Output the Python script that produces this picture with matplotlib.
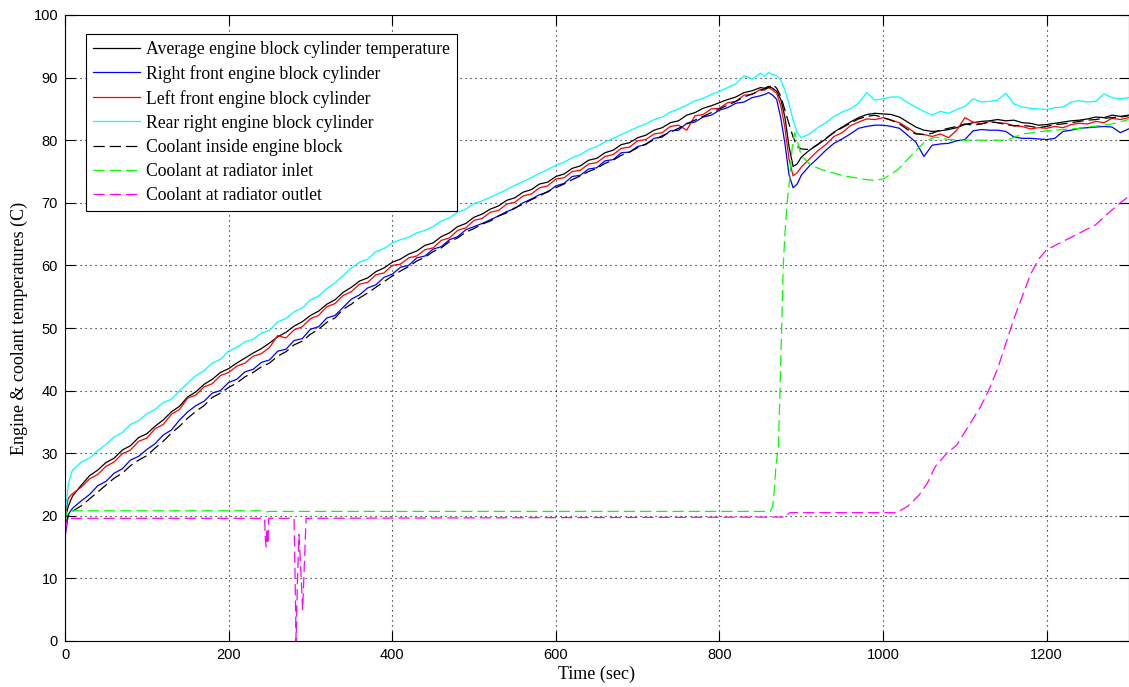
import numpy as np
import matplotlib
matplotlib.use("Agg")
import matplotlib.pyplot as plt

# sample times for the cylinder / block channels (sec)
t_cyl = [0, 4, 8] + list(range(10, 851, 10)) + list(range(855, 901, 5)) + list(range(910, 1301, 10))

avg_block = [19.5, 21.5, 22.8,
    23.3, 24.9, 26.4, 27.3, 28.5, 29.2, 30.5, 31.2, 32.5, 33.1,
    34.3, 35.3, 36.6, 37.5, 39.0, 39.8, 41.0, 41.8, 42.9, 43.5,
    44.4, 45.2, 46.0, 46.7, 47.6, 48.6, 49.3, 50.3, 51.0, 52.0,
    52.7, 53.8, 54.5, 55.7, 56.5, 57.5, 58.0, 59.0, 59.6, 60.5,
    61.0, 61.8, 62.3, 63.2, 63.6, 64.6, 65.2, 66.2, 66.7, 67.7,
    68.2, 69.0, 69.5, 70.4, 70.8, 71.7, 72.1, 73.0, 73.3, 74.2,
    74.6, 75.5, 75.9, 76.8, 77.1, 78.0, 78.4, 79.3, 79.6, 80.4,
    80.8, 81.6, 82.0, 82.8, 83.1, 84.0, 84.4, 85.1, 85.5, 86.0,
    86.5, 86.9, 87.6, 87.9, 88.4,
    88.3, 88.6, 88.3, 87.8, 86.5, 83.7, 79.0, 75.8, 76.2, 77.3,
    78.4, 79.3, 80.2, 81.3, 82.1, 82.9, 83.6, 84.1, 84.3, 84.2,
    84.1, 83.7, 82.9, 82.1, 81.6, 81.4, 81.5, 81.7, 82.0, 82.5,
    82.8, 83.0, 83.1, 83.3, 83.1, 83.2, 82.8, 82.7, 82.4, 82.5,
    82.7, 82.9, 83.1, 83.2, 83.4, 83.7, 83.6, 84.0, 83.8, 84.0]

right_front = [16.5, 20.2, 21.0,
    21.3, 22.4, 23.4, 24.8, 25.5, 26.8, 27.5, 28.9, 29.5, 30.6,
    31.5, 32.9, 33.7, 35.3, 36.6, 37.6, 38.3, 39.6, 40.0, 41.3,
    41.8, 43.0, 43.4, 44.5, 44.9, 46.3, 46.6, 48.0, 48.3, 49.8,
    50.2, 51.6, 52.0, 53.3, 54.6, 55.3, 56.4, 56.9, 58.1, 58.6,
    59.7, 60.0, 61.2, 61.5, 62.6, 63.0, 64.1, 64.6, 65.7, 66.2,
    66.7, 67.3, 67.9, 68.6, 69.1, 70.0, 70.6, 71.3, 71.7, 72.7,
    73.1, 74.2, 74.4, 75.4, 75.6, 76.7, 76.9, 78.0, 78.1, 79.0,
    79.3, 80.3, 80.5, 81.5, 81.6, 82.7, 82.9, 83.7, 84.0, 84.8,
    85.2, 85.9, 86.1, 86.8, 87.1,
    87.3, 87.6, 87.2, 86.5, 83.5, 79.5, 74.5, 72.4, 73.0, 74.4,
    75.9, 77.1, 78.4, 79.5, 80.2, 81.0, 81.9, 82.2, 82.4, 82.4,
    82.2, 81.9, 80.8, 79.7, 77.4, 79.2, 79.4, 79.5, 79.9, 80.1,
    81.5, 81.7, 81.6, 81.6, 81.4, 80.5, 80.3, 80.3, 80.2, 80.1,
    80.3, 81.4, 81.6, 81.9, 82.0, 82.1, 82.2, 82.1, 81.2, 81.8]

left_front = [20.0, 22.8, 23.4,
    23.6, 24.6, 25.9, 26.6, 27.9, 28.6, 29.9, 30.5, 31.9, 32.4,
    33.9, 34.6, 36.2, 37.0, 38.8, 39.3, 40.6, 41.1, 42.4, 42.9,
    43.9, 44.4, 45.5, 45.9, 46.9, 48.8, 48.4, 49.7, 50.2, 51.5,
    52.0, 53.4, 53.9, 55.2, 55.8, 57.0, 57.3, 58.5, 58.8, 60.0,
    60.2, 61.2, 61.5, 62.5, 62.8, 64.0, 64.4, 65.6, 66.0, 67.2,
    67.5, 68.5, 68.8, 69.8, 70.1, 71.1, 71.4, 72.4, 72.7, 73.8,
    74.0, 75.0, 75.2, 76.2, 76.4, 77.4, 77.7, 78.7, 78.9, 79.9,
    80.1, 81.0, 81.2, 82.2, 82.4, 81.6, 83.9, 84.1, 85.0, 85.1,
    86.0, 86.2, 87.2, 87.3, 88.1,
    88.0, 88.4, 88.0, 87.5, 85.5, 82.0, 77.0, 74.3, 74.8, 75.7,
    77.0, 78.3, 79.3, 80.6, 81.2, 82.3, 82.9, 83.4, 83.3, 83.6,
    83.2, 82.8, 82.0, 81.1, 80.9, 80.6, 81.0, 80.4, 81.6, 83.6,
    82.9, 82.6, 83.0, 82.8, 82.7, 82.3, 82.2, 81.8, 82.0, 81.9,
    82.2, 82.0, 82.5, 82.7, 82.6, 83.0, 82.8, 83.5, 83.3, 83.6]

rear_right = [20.0, 25.0, 27.0,
    27.4, 28.6, 29.2, 30.4, 31.4, 32.6, 33.3, 34.6, 35.2, 36.3,
    37.0, 38.1, 38.6, 40.0, 41.2, 42.4, 43.2, 44.4, 45.0, 46.3,
    46.9, 47.8, 48.2, 49.2, 49.6, 51.0, 51.5, 52.6, 53.2, 54.5,
    55.1, 56.3, 57.2, 58.4, 59.6, 60.5, 61.0, 62.2, 62.7, 63.6,
    64.1, 64.5, 65.2, 65.6, 66.2, 67.1, 67.6, 68.5, 69.0, 69.9,
    70.3, 70.9, 71.5, 72.1, 72.8, 73.4, 74.0, 74.7, 75.3, 76.0,
    76.5, 77.2, 77.7, 78.5, 79.0, 79.7, 80.3, 80.9, 81.5, 82.1,
    82.6, 83.3, 83.7, 84.5, 85.0, 85.6, 86.3, 86.7, 87.3, 87.8,
    88.4, 89.0, 90.3, 89.8, 90.7,
    90.2, 90.8, 90.5, 90.3, 89.6, 88.0, 85.8, 83.2, 81.2, 80.4,
    81.0, 82.0, 82.8, 83.8, 84.5, 85.0, 85.9, 87.6, 86.4, 86.6,
    86.9, 86.9, 86.0, 85.3, 84.6, 84.0, 84.6, 84.3, 84.9, 85.4,
    86.6, 86.1, 86.2, 86.4, 87.5, 85.8, 85.3, 85.1, 85.0, 84.9,
    85.2, 85.3, 86.1, 86.3, 86.1, 86.2, 87.4, 86.8, 86.6, 86.8]

coolant_block = [18.5, 20.0, 20.6,
    20.8, 21.6, 22.7, 23.8, 24.9, 26.0, 26.8, 28.0, 28.9, 29.6,
    30.8, 31.9, 33.2, 34.3, 35.6, 36.7, 37.6, 38.9, 39.6, 40.5,
    41.2, 42.2, 42.9, 43.8, 44.4, 45.5, 46.2, 47.3, 47.9, 49.0,
    49.8, 50.9, 51.6, 53.0, 53.8, 54.8, 55.6, 56.5, 57.4, 58.3,
    59.1, 59.8, 60.7, 61.3, 62.2, 62.8, 63.8, 64.4, 65.3, 65.9,
    66.6, 67.1, 67.9, 68.4, 69.2, 69.8, 70.5, 71.1, 71.8, 72.4,
    73.0, 73.7, 74.3, 75.0, 75.5, 76.3, 76.8, 77.6, 78.1, 78.8,
    79.4, 80.1, 80.7, 81.3, 81.9, 82.6, 83.2, 83.8, 84.4, 85.0,
    85.6, 86.2, 86.9, 87.4, 87.9,
    88.2, 88.4, 88.9, 88.3, 87.0, 84.8, 82.6, 80.5, 79.0, 78.6,
    78.5, 79.3, 80.3, 81.2, 82.0, 82.7, 83.4, 83.8, 84.0, 83.6,
    83.2, 82.6, 81.7, 81.0, 80.9, 81.1, 81.6, 81.9, 82.2, 82.6,
    82.4, 82.6, 82.9, 82.8, 82.5, 82.3, 82.4, 82.2, 82.0, 82.2,
    82.5, 82.6, 82.8, 83.0, 83.2, 83.3, 83.5, 83.6, 83.7, 83.9]

# radiator inlet
t_inlet = [0, 2, 240, 245, 250, 862, 865, 867, 869, 872, 874, 876, 878, 880, 883,
           886, 889, 892, 896, 900, 912, 925, 938, 952, 966, 980, 990, 1000, 1010,
           1018, 1026, 1035, 1042, 1050, 1058, 1064, 1080, 1098, 1120, 1151, 1171,
           1200, 1240, 1280, 1300]
rad_inlet = [19.0, 20.8, 20.8, 20.6, 20.7, 20.7, 21.5, 24.0, 28.0, 31.0, 40.0, 50.0, 60.0,
             65.0, 70.4, 74.0, 79.0, 81.2, 79.5, 77.5, 76.0, 75.3, 74.8, 74.3, 74.0,
             73.7, 73.6, 73.8, 74.6, 75.3, 76.4, 77.6, 78.6, 79.6, 80.2, 80.5, 80.1,
             80.0, 80.0, 80.0, 81.0, 81.5, 81.9, 82.6, 83.3]

# radiator outlet
t_outlet = [0, 1, 3, 244, 245, 246, 247, 248, 249, 280, 281.5, 282.5, 284, 286, 288,
            290.5, 292.5, 294.7, 880, 886, 1016, 1030, 1044, 1054, 1064, 1078, 1090,
            1100, 1109, 1119, 1129, 1140, 1150, 1160, 1170, 1180, 1190, 1200, 1215,
            1230, 1245, 1260, 1275, 1290, 1300]
rad_outlet = [15.0, 18.0, 19.6, 19.6, 16.0, 15.0, 18.0, 15.5, 19.6, 19.6, 8.0, 0.0, 9.0,
              17.0, 12.0, 5.0, 12.0, 19.6, 19.8, 20.5, 20.5, 21.5, 23.3, 25.2, 27.9,
              30.0, 31.3, 33.4, 35.3, 37.4, 40.0, 43.5, 47.5, 51.5, 55.0, 58.5, 61.0,
              62.5, 63.5, 64.5, 65.5, 66.5, 68.3, 70.0, 71.0]

labels = ["Average engine block cylinder temperature",
          "Right front engine block cylinder",
          "Left front engine block cylinder",
          "Rear right engine block cylinder",
          "Coolant inside engine block",
          "Coolant at radiator inlet",
          "Coolant at radiator outlet"]

serif = ["Liberation Serif", "DejaVu Serif"]
sans = ["Liberation Sans", "DejaVu Sans"]

fig = plt.figure(figsize=(11.29, 6.87), dpi=100)
ax = fig.add_axes([65 / 1129, 46 / 687, 1063.5 / 1129, 626 / 687])

lw = 0.9
dash = (9, 4)
ax.plot(t_cyl, avg_block, color="black", lw=lw, label=labels[0])
ax.plot(t_cyl, right_front, color="#0000ff", lw=lw, label=labels[1])
ax.plot(t_cyl, left_front, color="#ff0000", lw=lw, label=labels[2])
ax.plot(t_cyl, rear_right, color="#00ffff", lw=lw, label=labels[3])
ax.plot(t_cyl, coolant_block, color="black", lw=lw, dashes=dash, label=labels[4])
ax.plot(t_inlet, rad_inlet, color="#00ff00", lw=lw, dashes=dash, label=labels[5])
ax.plot(t_outlet, rad_outlet, color="#ff00ff", lw=lw, dashes=dash, label=labels[6])

ax.set_xlim(0, 1300)
ax.set_ylim(0, 100)
ax.set_xticks(range(0, 1201, 200))
ax.set_yticks(range(0, 101, 10))
ax.grid(True, color="black", linestyle=(0, (1, 3.5)), linewidth=0.8)
ax.tick_params(direction="in", length=7, width=0.8, top=True, right=True,
               labelsize=10.5, pad=5)
for lab in ax.get_xticklabels() + ax.get_yticklabels():
    lab.set_family(sans)
for sp in ax.spines.values():
    sp.set_linewidth(0.8)

ax.set_xlabel("Time (sec)", family=serif, fontsize=13, labelpad=3)
ax.set_ylabel("Engine & coolant temperatures (C)", family=serif, fontsize=13, labelpad=4)

leg = ax.legend(loc="upper left", bbox_to_anchor=(0.0197, 0.9696), borderaxespad=0,
                prop={"family": serif, "size": 12.7}, handlelength=2.7,
                labelspacing=0.4, handletextpad=0.35, borderpad=0.38,
                fancybox=False, framealpha=1, edgecolor="black")
leg.get_frame().set_linewidth(0.8)

fig.savefig("out.png", dpi=100)
